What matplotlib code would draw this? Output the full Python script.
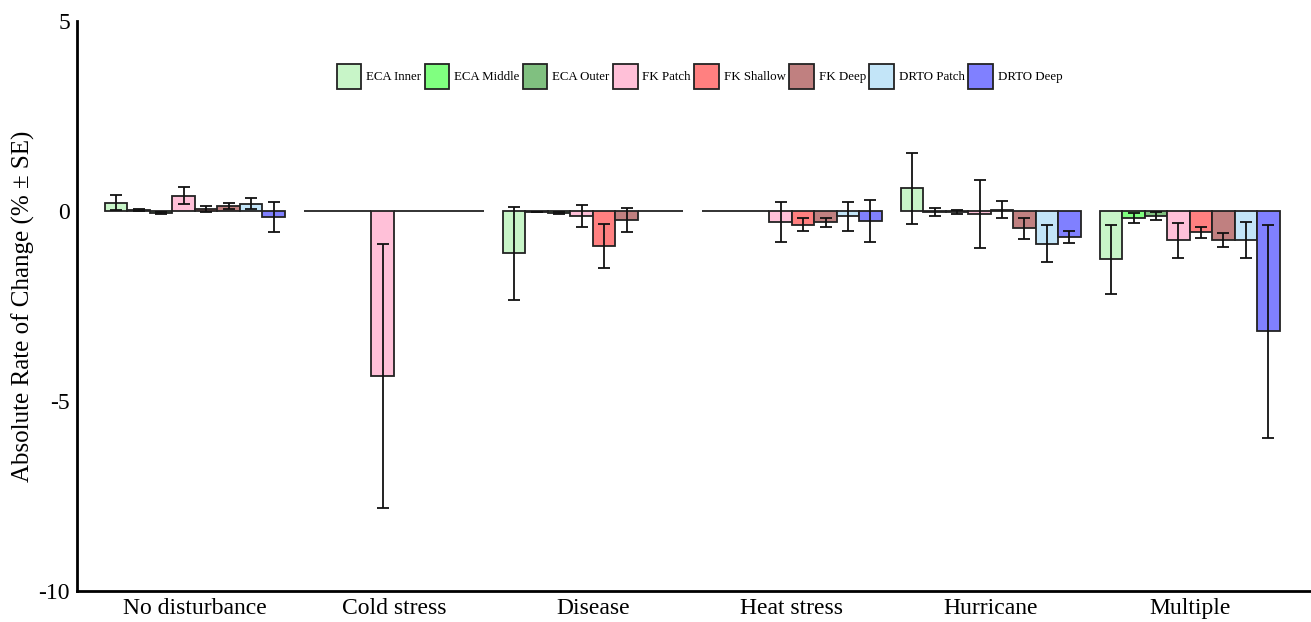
import matplotlib.pyplot as plt
import numpy as np

plt.rcParams['font.family'] = ['Liberation Serif', 'DejaVu Serif']

groups = ['No disturbance', 'Cold stress', 'Disease', 'Heat stress', 'Hurricane', 'Multiple']
series = ['ECA Inner', 'ECA Middle', 'ECA Outer', 'FK Patch', 'FK Shallow', 'FK Deep', 'DRTO Patch', 'DRTO Deep']
colors = ['#c8f5c8', '#80ff80', '#80c080', '#ffc0d8', '#ff8080', '#c08080', '#c3e5f8', '#8080ff']

nan = np.nan
# mean rate of change per series, one value per group (0 = no data)
eca_inner  = [0.22, 0, -1.11, 0, 0.60, -1.27]
eca_middle = [0.03, 0, -0.02, 0, -0.02, -0.17]
eca_outer  = [-0.05, 0, -0.05, 0, -0.02, -0.13]
fk_patch   = [0.41, -4.34, -0.13, -0.29, -0.07, -0.77]
fk_shallow = [0.06, 0, -0.91, -0.36, 0.04, -0.56]
fk_deep    = [0.14, 0, -0.23, -0.29, -0.45, -0.76]
drto_patch = [0.20, 0, 0, -0.13, -0.86, -0.76]
drto_deep  = [-0.16, 0, 0, -0.26, -0.68, -3.16]

# standard errors
se_eca_inner  = [0.20, nan, 1.22, nan, 0.93, 0.90]
se_eca_middle = [0.03, nan, 0.01, nan, 0.11, 0.13]
se_eca_outer  = [0.03, nan, 0.03, nan, 0.05, 0.10]
se_fk_patch   = [0.23, 3.47, 0.28, 0.52, 0.90, 0.46]
se_fk_shallow = [0.08, nan, 0.58, 0.17, 0.23, 0.15]
se_fk_deep    = [0.07, nan, 0.31, 0.12, 0.27, 0.19]
se_drto_patch = [0.14, nan, nan, 0.38, 0.49, 0.47]
se_drto_deep  = [0.40, nan, nan, 0.56, 0.17, 2.80]

values = [eca_inner, eca_middle, eca_outer, fk_patch, fk_shallow, fk_deep, drto_patch, drto_deep]
errors = [se_eca_inner, se_eca_middle, se_eca_outer, se_fk_patch, se_fk_shallow, se_fk_deep,
          se_drto_patch, se_drto_deep]

fig = plt.figure(figsize=(13.11, 6.22), dpi=100)
ax = fig.add_axes([0.0587, 0.0498, 0.9403, 0.9160])

ind = np.arange(len(groups))
width = 0.113
for k in range(len(series)):
    pos = ind + (k - 3.5) * width
    ax.bar(pos, values[k], width, color=colors[k], edgecolor='#222222', linewidth=1.3,
           label=series[k], zorder=2)
    ax.errorbar(pos, values[k], yerr=errors[k], fmt='none', ecolor='#111111',
                elinewidth=1.3, capsize=4, capthick=1.3, zorder=3)

ax.set_xlim(-0.593, 5.603)
ax.set_ylim(-10, 5)
ax.set_yticks([-10, -5, 0, 5])
ax.set_yticklabels(['-10', '-5', '0', '5'], fontsize=17)
ax.set_xticks(ind)
ax.set_xticklabels(groups, fontsize=17)
ax.tick_params(length=0, pad=5)
ax.spines['top'].set_visible(False)
ax.spines['right'].set_visible(False)
ax.spines['left'].set_linewidth(2)
ax.spines['bottom'].set_linewidth(2)
ax.set_ylabel('Absolute Rate of Change (% \u00b1 SE)', fontsize=18)
ax.yaxis.set_label_coords(-0.034, 0.5)

ax.legend(loc='center', bbox_to_anchor=(0.505, 0.903), ncol=8, frameon=False, fontsize=9.3,
          handlelength=1.9, handleheight=2.5, handletextpad=0.38, columnspacing=0.27)

fig.savefig('out.png', dpi=100)
